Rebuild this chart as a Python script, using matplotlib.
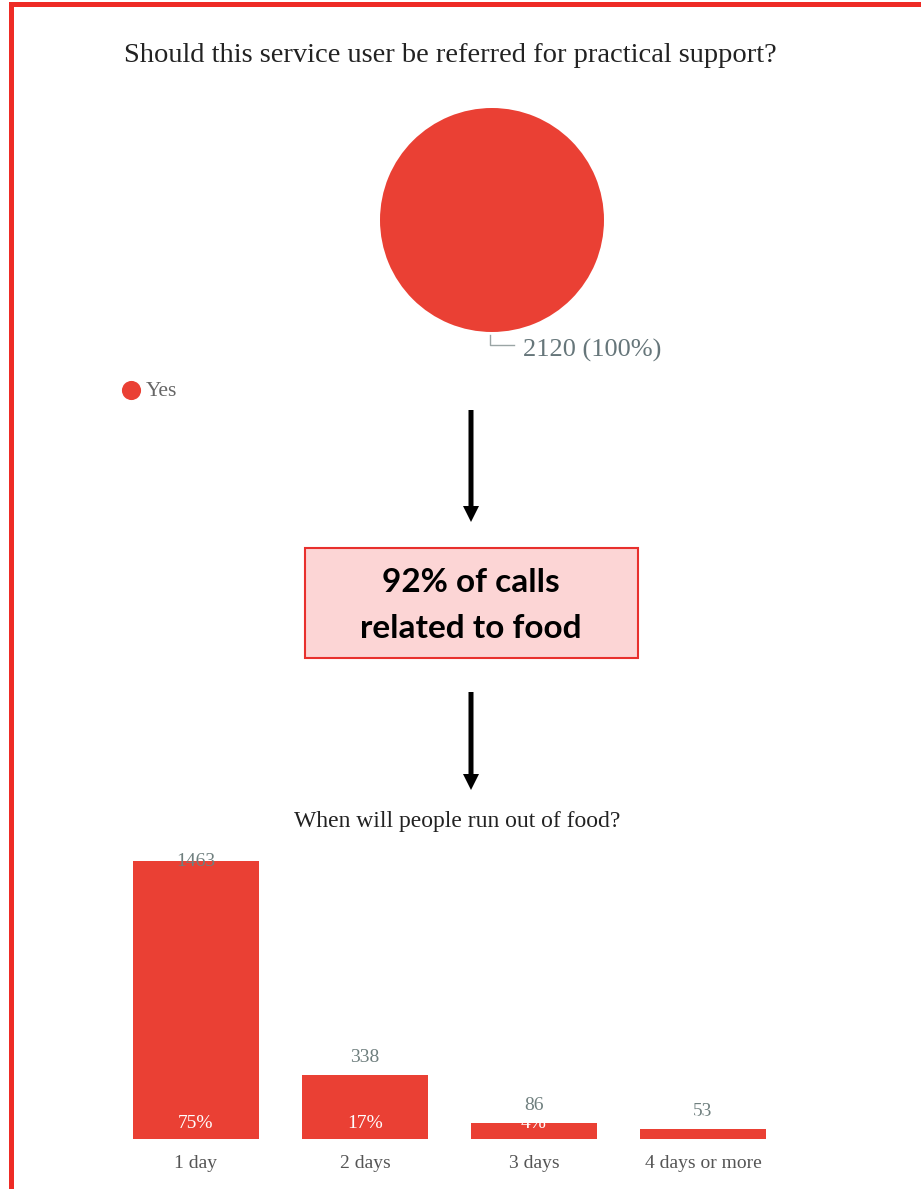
import matplotlib
matplotlib.use('Agg')
import matplotlib.pyplot as plt
from matplotlib.patches import Rectangle, FancyArrow

# pie data
pie_labels = ['Yes']
pie_values = [2120]

# bar data
bar_cats = ['1 day', '2 days', '3 days', '4 days or more']
bar_values = [1463, 338, 86, 53]
bar_pcts = ['75%', '17%', '4%', '3%']

RED = '#EA4034'
SERIF = 'Liberation Serif'
W, H = 921, 1189

fig = plt.figure(figsize=(W / 100, H / 100), dpi=100)
fig.patch.set_facecolor('white')


def px_axes(left, top, right, bottom):
    return fig.add_axes([left / W, 1 - bottom / H, (right - left) / W, (bottom - top) / H])


# overlay in pixel coordinates for border, arrows, box and titles
ov = px_axes(0, 0, W, H)
ov.set_xlim(0, W)
ov.set_ylim(H, 0)
ov.axis('off')

# red frame (top and left edges)
ov.add_patch(Rectangle((9, 2), W - 9, 5, color='#EE2B25', lw=0))
ov.add_patch(Rectangle((9, 2), 4.5, H, color='#EE2B25', lw=0))

ov.text(450, 55, 'Should this service user be referred for practical support?',
        ha='center', va='center', fontsize=20.5, family=SERIF, color='#222222')

# pie
ax_pie = px_axes(380, 108, 604, 332)
total = sum(pie_values)
ax_pie.pie(pie_values, colors=[RED], radius=1, startangle=90,
           wedgeprops=dict(linewidth=0))
ax_pie.set_xlim(-1, 1)
ax_pie.set_ylim(-1, 1)
ax_pie.set_aspect('equal')
ax_pie.axis('off')
ax_pie.plot([-0.02, -0.02, 0.2], [-1.03, -1.12, -1.12], color='#9aa5a5', lw=1,
            clip_on=False)
ax_pie.text(0.28, -1.165, f'{pie_values[0]} ({pie_values[0] / total:.0%})',
            ha='left', va='center', fontsize=19, family=SERIF, color='#66767a',
            clip_on=False)

# legend
ov.scatter([131], [390], s=190, color=RED, lw=0)
ov.text(146, 392, pie_labels[0], ha='left', va='center', fontsize=15.5,
        family=SERIF, color='#666666')

# arrows
for y0, y1 in [(410, 522), (692, 790)]:
    ov.add_patch(FancyArrow(471, y0, 0, y1 - y0, width=5, head_width=16,
                            head_length=16, length_includes_head=True,
                            color='black', lw=0))

# highlight box
ov.add_patch(Rectangle((305, 548), 333, 110, fc='#FCD5D5', ec='#E8302D', lw=1.5))
ov.text(471, 583, '92% of calls', ha='center', va='center', fontsize=24,
        family='Lato', weight='bold', color='black')
ov.text(471, 628, 'related to food', ha='center', va='center', fontsize=24,
        family='Lato', weight='bold', color='black')

ov.text(457, 821, 'When will people run out of food?', ha='center', va='center',
        fontsize=17, family=SERIF, color='#222222')

# bar chart
bw = 0.745
ax_bar = px_axes(133, 861, 766, 1139)
x = range(len(bar_cats))
ax_bar.bar(x, bar_values, width=bw, color=RED, lw=0)
ax_bar.set_xlim(-bw / 2, len(bar_cats) - 1 + bw / 2)
ax_bar.set_ylim(0, max(bar_values))
ax_bar.axis('off')
for i, (v, p, c) in enumerate(zip(bar_values, bar_pcts, bar_cats)):
    ax_bar.annotate(str(v), (i, v), xytext=(0, 17 if i else -1), textcoords='offset pixels',
                    ha='center', va='center', fontsize=14, family=SERIF,
                    color='#6f7f7e', annotation_clip=False)
    ax_bar.annotate(p, (i, 0), xytext=(0, 16), textcoords='offset pixels',
                    ha='center', va='center', fontsize=14, family=SERIF,
                    color='white', annotation_clip=False)
    ax_bar.annotate(c, (i, 0), xytext=(0, -24), textcoords='offset pixels',
                    ha='center', va='center', fontsize=14, family=SERIF,
                    color='#555555', annotation_clip=False)

fig.savefig('out.png', dpi=100)
